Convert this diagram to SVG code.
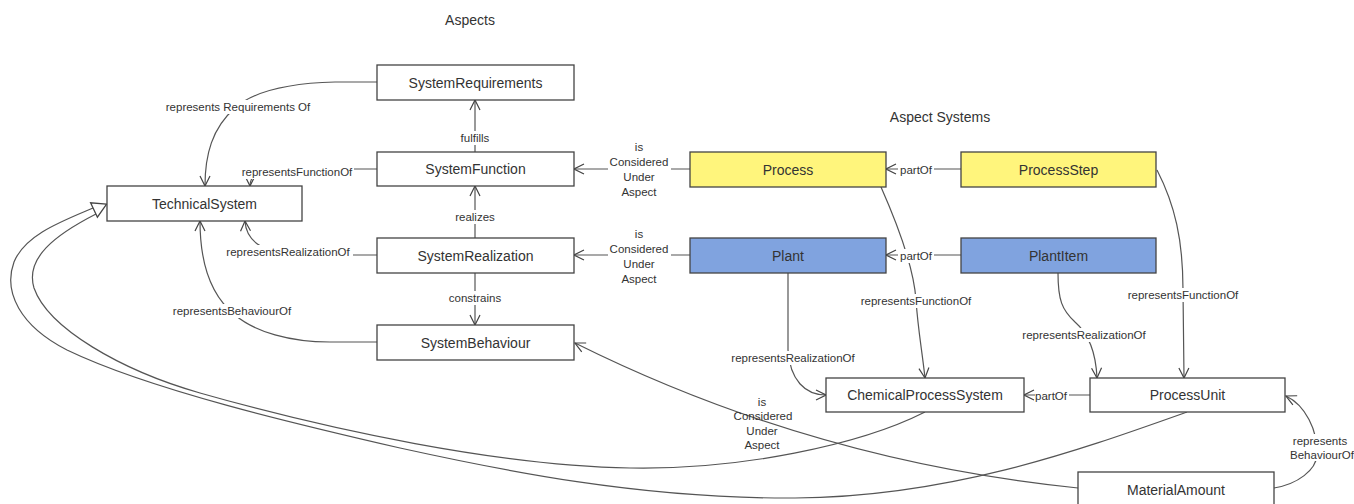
<svg xmlns="http://www.w3.org/2000/svg" width="1354" height="504" viewBox="0 0 1354 504">
  <style>
    .box { fill: #ffffff; stroke: #444444; stroke-width: 1.3; }
    .yel { fill: #fff57c; }
    .blu { fill: #80a3df; }
    .name { font-family: "Liberation Sans", Arial, sans-serif; font-size: 14px; fill: #333333; text-anchor: middle; }
    .title { font-family: "Liberation Sans", Arial, sans-serif; font-size: 14px; fill: #333333; text-anchor: middle; }
    .edge { fill: none; stroke: #555555; stroke-width: 1.2; }
    .lbl { font-family: "Liberation Sans", Arial, sans-serif; font-size: 11.5px; fill: #333333; text-anchor: middle; }
    .lbg { fill: #ffffff; }
  </style>
  <defs>
    <marker id="open" viewBox="0 0 12 12" refX="11" refY="6" markerWidth="12" markerHeight="12" markerUnits="userSpaceOnUse" orient="auto">
      <path d="M1,1 L11,6 L1,11" fill="none" stroke="#444444" stroke-width="1.2"/>
    </marker>
  </defs>

  <rect width="1354" height="504" fill="#ffffff"/>

  <text class="title" x="470" y="25">Aspects</text>
  <text class="title" x="940" y="122">Aspect Systems</text>

  <g id="connectors">
    <!-- generalisation curves into TechnicalSystem -->
    <path class="edge" d="M925,412 C860,445 740,470 630,468 C500,466 330,430 200,393 C120,370 48,328 34,288 C25,258 55,235 96,214"/>
    <path class="edge" d="M1187,412 C1080,450 950,497 795,498 C640,499 500,470 400,448 C300,425 150,390 67,350 C20,326 3,292 14,262 C25,235 60,222 93,208"/>
    <polygon points="106.6,204.1 90.6,202.8 97.4,217.2" fill="#ffffff" stroke="#444444" stroke-width="1.3"/>

    <!-- aspect relations to TechnicalSystem -->
    <path class="edge" marker-end="url(#open)" d="M377,82 L335,82 C295,83 255,90 235,108 C212,128 205,155 205,186"/>
    <path class="edge" marker-end="url(#open)" d="M377,169 L280,169 C260,169 250,175 250,186"/>
    <path class="edge" marker-end="url(#open)" d="M377,255 L290,255 C262,252 246,240 245,221"/>
    <path class="edge" marker-end="url(#open)" d="M377,342 L330,342 C290,342 255,332 235,315 C210,295 200,260 200,221"/>

    <!-- aspect chain -->
    <path class="edge" marker-end="url(#open)" d="M475,152 L475,100"/>
    <path class="edge" marker-end="url(#open)" d="M475,238 L475,186"/>
    <path class="edge" marker-end="url(#open)" d="M475,273 L475,325"/>

    <!-- aspect systems considered under aspects -->
    <path class="edge" marker-end="url(#open)" d="M690,169 L574,169"/>
    <path class="edge" marker-end="url(#open)" d="M690,255 L574,255"/>
    <path class="edge" marker-end="url(#open)" d="M1078,488 Q812,461 575,343"/>

    <!-- partOf -->
    <path class="edge" marker-end="url(#open)" d="M961,169 L886,169"/>
    <path class="edge" marker-end="url(#open)" d="M961,255 L886,255"/>
    <path class="edge" marker-end="url(#open)" d="M1090,395 L1024,395"/>

    <!-- represents... between aspect systems and chemical process objects -->
    <path class="edge" marker-end="url(#open)" d="M881,187 C900,230 914,270 916,300 C918,330 922,350 925,378"/>
    <path class="edge" marker-end="url(#open)" d="M788,273 L788,350 C790,380 805,395 826,395"/>
    <path class="edge" marker-end="url(#open)" d="M1058,273 C1058,300 1062,310 1075,322 C1090,335 1096,355 1097,378"/>
    <path class="edge" marker-end="url(#open)" d="M1157,170 C1175,205 1183,240 1183,290 L1184,378"/>
    <path class="edge" marker-end="url(#open)" d="M1274,488 C1298,484 1316,470 1317,455 C1318,430 1305,405 1286,396"/>

    <!-- connector labels -->
    <rect class="lbg" x="166" y="100" width="145" height="14"/>
    <text class="lbl" x="238" y="111">represents Requirements Of</text>
    <rect class="lbg" x="240" y="165" width="114" height="14"/>
    <text class="lbl" x="297" y="176">representsFunctionOf</text>
    <rect class="lbg" x="222" y="245" width="131" height="14"/>
    <text class="lbl" x="288" y="256">representsRealizationOf</text>
    <rect class="lbg" x="171" y="304" width="123" height="14"/>
    <text class="lbl" x="232" y="315">representsBehaviourOf</text>

    <rect class="lbg" x="458" y="131" width="34" height="14"/>
    <text class="lbl" x="475" y="142">fulfills</text>
    <rect class="lbg" x="452" y="210" width="46" height="14"/>
    <text class="lbl" x="475" y="221">realizes</text>
    <rect class="lbg" x="446" y="291" width="58" height="14"/>
    <text class="lbl" x="475" y="302">constrains</text>

    <rect class="lbg" x="608" y="155" width="63" height="15"/>
    <text class="lbl" x="639" y="151">is</text>
    <text class="lbl" x="639" y="166">Considered</text>
    <text class="lbl" x="639" y="181">Under</text>
    <text class="lbl" x="639" y="196">Aspect</text>

    <rect class="lbg" x="608" y="241" width="63" height="15"/>
    <text class="lbl" x="639" y="238">is</text>
    <text class="lbl" x="639" y="253">Considered</text>
    <text class="lbl" x="639" y="268">Under</text>
    <text class="lbl" x="639" y="283">Aspect</text>

    <text class="lbl" x="762" y="406">is</text>
    <text class="lbl" x="763" y="420">Considered</text>
    <text class="lbl" x="762" y="435">Under</text>
    <text class="lbl" x="762" y="449">Aspect</text>

    <rect class="lbg" x="898" y="163" width="36" height="14"/>
    <text class="lbl" x="916" y="174">partOf</text>
    <rect class="lbg" x="898" y="249" width="36" height="14"/>
    <text class="lbl" x="916" y="260">partOf</text>
    <rect class="lbg" x="1035" y="389" width="34" height="14"/>
    <text class="lbl" x="1051" y="400">partOf</text>

    <rect class="lbg" x="858" y="294" width="117" height="14"/>
    <text class="lbl" x="916" y="305">representsFunctionOf</text>
    <rect class="lbg" x="728" y="351" width="131" height="14"/>
    <text class="lbl" x="793" y="362">representsRealizationOf</text>
    <rect class="lbg" x="1018" y="328" width="132" height="14"/>
    <text class="lbl" x="1084" y="339">representsRealizationOf</text>
    <rect class="lbg" x="1125" y="288" width="117" height="14"/>
    <text class="lbl" x="1183" y="299">representsFunctionOf</text>
    <rect class="lbg" x="1292" y="434" width="60" height="27"/>
    <text class="lbl" x="1320" y="445">represents</text>
    <text class="lbl" x="1322" y="459">BehaviourOf</text>
  </g>

  <g id="SystemRequirements">
    <rect class="box" x="377" y="65" width="197" height="35"/>
    <text class="name" x="475.5" y="87.5">SystemRequirements</text>
  </g>
  <g id="SystemFunction">
    <rect class="box" x="377" y="152" width="197" height="34"/>
    <text class="name" x="475.5" y="174">SystemFunction</text>
  </g>
  <g id="TechnicalSystem">
    <rect class="box" x="107" y="186" width="195" height="35"/>
    <text class="name" x="204.5" y="208.5">TechnicalSystem</text>
  </g>
  <g id="SystemRealization">
    <rect class="box" x="377" y="238" width="197" height="35"/>
    <text class="name" x="475.5" y="260.5">SystemRealization</text>
  </g>
  <g id="SystemBehaviour">
    <rect class="box" x="377" y="325" width="197" height="35"/>
    <text class="name" x="475.5" y="347.5">SystemBehaviour</text>
  </g>
  <g id="Process">
    <rect class="box yel" x="690" y="152" width="196" height="35"/>
    <text class="name" x="788" y="174.5">Process</text>
  </g>
  <g id="ProcessStep">
    <rect class="box yel" x="961" y="152" width="195" height="35"/>
    <text class="name" x="1058.5" y="174.5">ProcessStep</text>
  </g>
  <g id="Plant">
    <rect class="box blu" x="690" y="238" width="196" height="35"/>
    <text class="name" x="788" y="260.5">Plant</text>
  </g>
  <g id="PlantItem">
    <rect class="box blu" x="961" y="238" width="195" height="35"/>
    <text class="name" x="1058.5" y="260.5">PlantItem</text>
  </g>
  <g id="ChemicalProcessSystem">
    <rect class="box" x="826" y="378" width="198" height="34"/>
    <text class="name" x="925" y="400">ChemicalProcessSystem</text>
  </g>
  <g id="ProcessUnit">
    <rect class="box" x="1090" y="378" width="195" height="34"/>
    <text class="name" x="1187.5" y="400">ProcessUnit</text>
  </g>
  <g id="MaterialAmount">
    <rect class="box" x="1078" y="472" width="196" height="40"/>
    <text class="name" x="1176" y="495">MaterialAmount</text>
  </g>
</svg>
